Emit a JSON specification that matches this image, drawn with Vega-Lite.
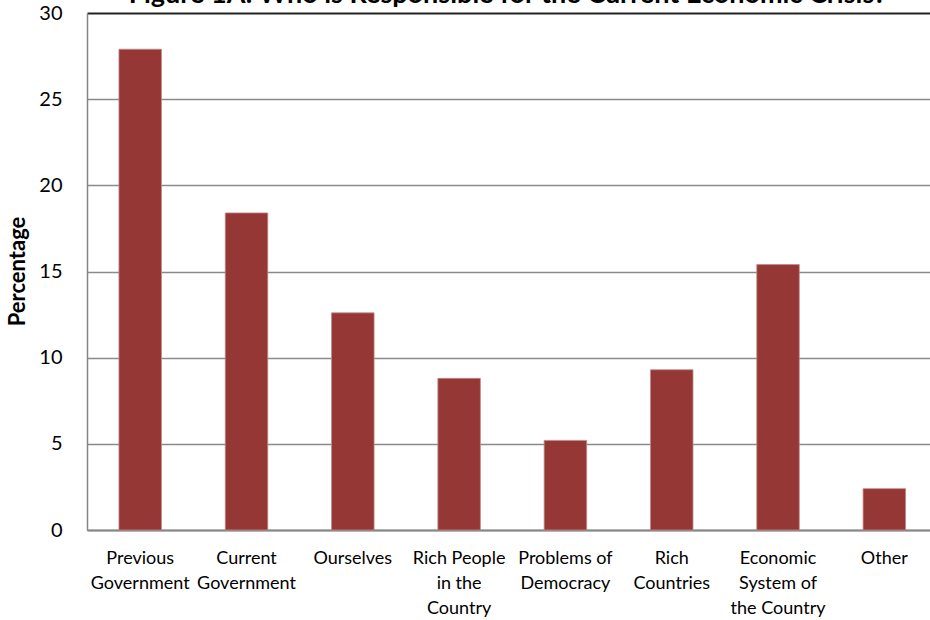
{
  "$schema": "https://vega.github.io/schema/vega-lite/v6.json",
  "autosize": "none",
  "width": 843,
  "height": 517,
  "padding": {"left": 87, "top": 13, "right": 0, "bottom": 90},
  "background": "white",
  "title": {
    "text": "Figure 1A: Who is Responsible for the Current Economic Crisis?",
    "font": "Lato",
    "fontSize": 27,
    "fontWeight": "bold",
    "color": "#000000",
    "anchor": "middle",
    "frame": "group",
    "baseline": "alphabetic",
    "offset": 0,
    "dy": 27,
    "dx": -1
  },
  "data": {
    "values": [
      {"category": "Previous\nGovernment", "percentage": 27.9},
      {"category": "Current\nGovernment", "percentage": 18.4},
      {"category": "Ourselves", "percentage": 12.6},
      {"category": "Rich People\nin the\nCountry", "percentage": 8.8},
      {"category": "Problems of\nDemocracy", "percentage": 5.2},
      {"category": "Rich\nCountries", "percentage": 9.3},
      {"category": "Economic\nSystem of\nthe Country", "percentage": 15.4},
      {"category": "Other", "percentage": 2.4}
    ]
  },
  "mark": {"type": "bar", "color": "#953735", "stroke": "#c08a89", "strokeWidth": 0.8},
  "encoding": {
    "x": {
      "field": "category",
      "type": "nominal",
      "sort": null,
      "scale": {"paddingInner": 0.6, "paddingOuter": 0.265, "align": 0.567},
      "axis": {
        "title": null,
        "labelAngle": 0,
        "labelExpr": "split(datum.label, '\\n')",
        "labelFont": "Lato",
        "labelFontSize": 18,
        "labelColor": "#000000",
        "labelLineHeight": 25,
        "labelPadding": 19,
        "labelLimit": 200,
        "ticks": false,
        "domainColor": "#868686",
        "domainWidth": 2,
        "grid": false
      }
    },
    "y": {
      "field": "percentage",
      "type": "quantitative",
      "scale": {"domain": [0, 30], "nice": false},
      "axis": {
        "title": "Percentage",
        "titleFont": "Lato",
        "titleFontSize": 22,
        "titleFontWeight": "bold",
        "titleColor": "#000000",
        "titleX": -70,
        "titleY": 258,
        "titleAlign": "center",
        "titleBaseline": "middle",
        "titleAngle": -90,
        "values": [0, 5, 10, 15, 20, 25, 30],
        "labelFont": "Lato",
        "labelFontSize": 20,
        "labelColor": "#000000",
        "labelPadding": 25,
        "ticks": false,
        "domainColor": "#868686",
        "domainWidth": 1.5,
        "grid": true,
        "gridColor": {"condition": {"test": "datum.value === 30", "value": "#222222"}, "value": "#8a8a8a"},
        "gridWidth": {"condition": {"test": "datum.value === 30", "value": 2}, "value": 1.6}
      }
    }
  },
  "config": {"view": {"stroke": null}}
}
